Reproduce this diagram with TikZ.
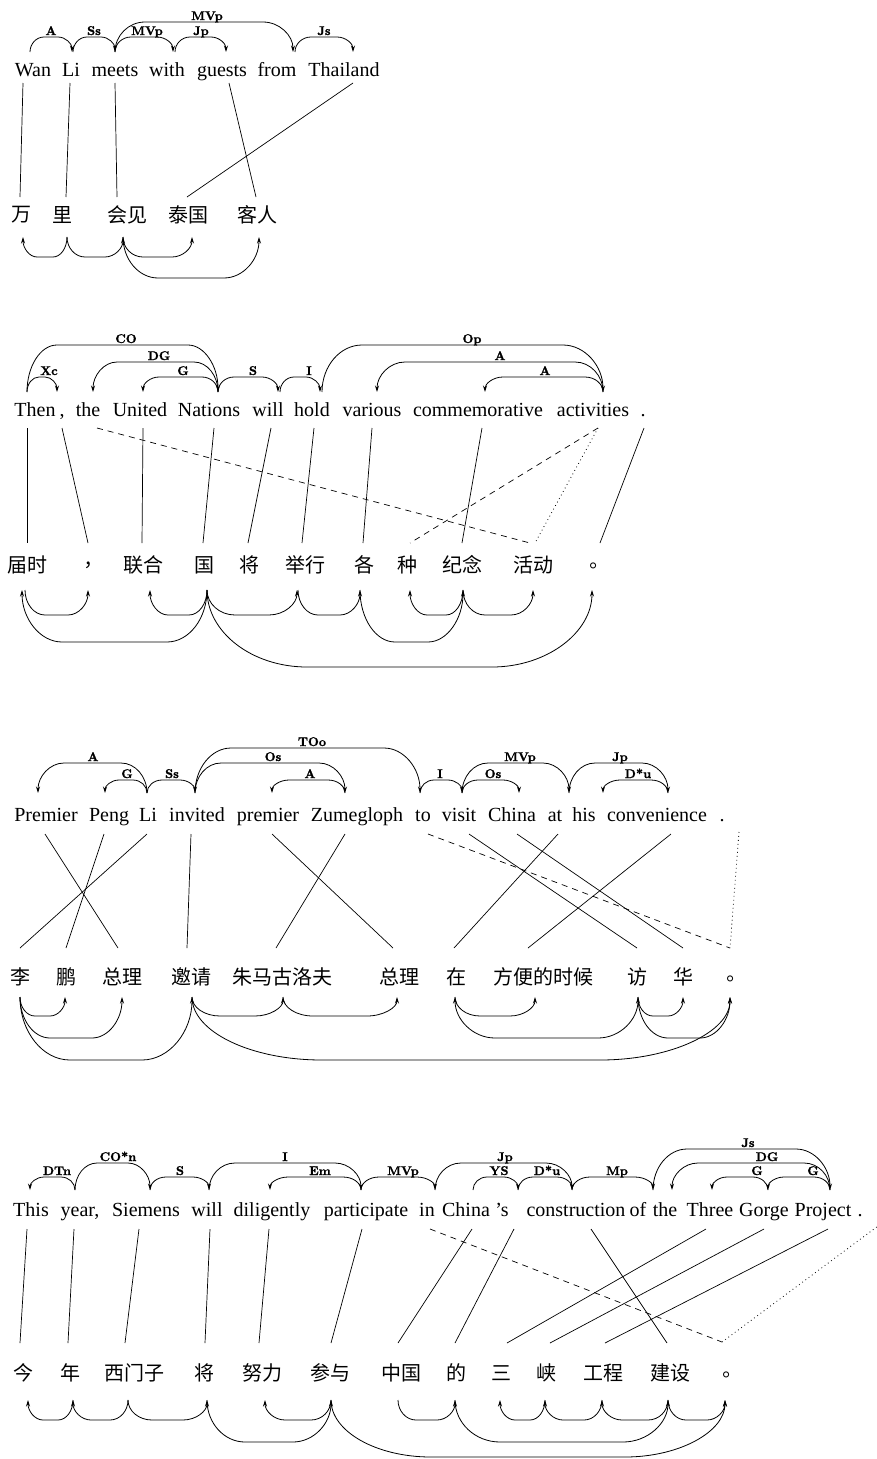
\documentclass[tikz,border=0pt]{standalone}
\usepackage{fontspec}
\usetikzlibrary{arrows.meta}
\newfontfamily\enf{Liberation Serif}
\newfontfamily\zhf{Noto Sans CJK SC}
\newfontfamily\zhpf{Noto Sans CJK TC}
\newfontfamily\labf{lmroman10-bold.otf}[FakeBold=1.2]
\tikzset{
 en/.style={font=\enf\fontsize{20}{24}\selectfont,anchor=base,inner sep=0pt},
 zh/.style={font=\zhf\fontsize{20}{24}\selectfont,inner sep=0pt},
 zhp/.style={font=\zhpf\fontsize{20}{24}\selectfont,inner sep=0pt},
 lab/.style={font=\labf\fontsize{12.6}{12}\selectfont,anchor=base,inner sep=0pt},
 lnk/.style={line width=0.8pt},
 al/.style={line width=0.7pt},
 dsh/.style={line width=0.7pt,dash pattern=on 6pt off 5pt},
 dtt/.style={line width=0.8pt,dash pattern=on 0.8pt off 3.2pt},
 R/.style={-{Stealth[length=6.5pt,width=4pt]}},
 L/.style={{Stealth[length=6.5pt,width=4pt]}-},
 B/.style={{Stealth[length=6.5pt,width=4pt]}-{Stealth[length=6.5pt,width=4pt]}},
}
\newcount\labn
\newcommand\lnkarc[6][]{\draw[lnk,#1] (#2,#4) .. controls (#2,{#4+0.55*(#5-#4)}) and ({#2+0.45*#6},#5) .. ({#2+#6},#5) -- ({#3-#6},#5) .. controls ({#3-0.45*#6},#5) and (#3,{#4+0.55*(#5-#4)}) .. (#3,#4);}
\newcommand\lbl[3]{\global\advance\labn by 1 \node[lab] (lab\the\labn) at (#1,{#2-2}) {#3};}
\begin{document}
\begin{tikzpicture}[x=1pt,y=-1pt]
\useasboundingbox (0,0) rectangle (876,1459);
% ================= Section 1
\node[en] (s1e1) at (33,76) {Wan};
\node[en] (s1e2) at (71,76) {Li};
\node[en] (s1e3) at (115,76) {meets};
\node[en] (s1e4) at (167,76) {with};
\node[en] (s1e5) at (222,76) {guests};
\node[en] (s1e6) at (277,76) {from};
\node[en] (s1e7) at (344,76) {Thailand};
\lnkarc[R]{30}{72}{52}{37}{14} \lbl{51}{37}{A}
\lnkarc[R]{73}{115}{52}{37}{14} \lbl{94}{37}{Ss}
\lnkarc[R]{115}{173}{52}{37}{16} \lbl{147}{37}{MVp}
\lnkarc[R]{175}{226}{52}{37}{15} \lbl{201}{37}{Jp}
\lnkarc[R]{115}{293}{52}{22}{30} \lbl{207}{22}{MVp}
\lnkarc[R]{295}{353}{52}{37}{16} \lbl{324}{37}{Js}
\node[zh] (s1z1) at (21,215) {万};
\node[zh] (s1z2) at (62,215) {里};
\node[zh] (s1z3) at (127,215) {会见};
\node[zh] (s1z4) at (188,215) {泰国};
\node[zh] (s1z5) at (257,215) {客人};
\draw[al] (23,83) -- (20,197);
\draw[al] (70,83) -- (66,197);
\draw[al] (115,83) -- (117,197);
\draw[al] (229,83) -- (256,197);
\draw[al] (353,83) -- (187,197);
\lnkarc[L]{23}{67}{237}{257}{14}
\lnkarc[R]{67}{123}{237}{257}{18}
\lnkarc[R]{123}{192}{237}{257}{20}
\lnkarc[R]{123}{259}{237}{278}{35}
% ================= Section 2
\node[en] (s2e1) at (35,416) {Then};
\node[en] (s2e2) at (62,416) {,};
\node[en] (s2e3) at (88,416) {the};
\node[en] (s2e4) at (140,416) {United};
\node[en] (s2e5) at (209,416) {Nations};
\node[en] (s2e6) at (268,416) {will};
\node[en] (s2e7) at (312,416) {hold};
\node[en] (s2e8) at (372,416) {various};
\node[en] (s2e9) at (478,416) {commemorative};
\node[en] (s2e10) at (593,416) {activities};
\node[en] (s2e11) at (643,416) {.};
\lnkarc[R]{27}{57}{392}{377}{12} \lbl{49}{377}{Xc}
\lnkarc[R]{27}{218}{392}{345}{30} \lbl{126}{345}{CO}
\lnkarc[L]{93}{218}{392}{362}{24} \lbl{159}{362}{DG}
\lnkarc[L]{143}{218}{392}{377}{16} \lbl{183}{377}{G}
\lnkarc[R]{218}{278}{392}{377}{16} \lbl{253}{377}{S}
\lnkarc[R]{280}{320}{392}{377}{14} \lbl{309}{377}{I}
\lnkarc[R]{322}{603}{392}{345}{40} \lbl{472}{345}{Op}
\lnkarc[L]{377}{603}{392}{362}{28} \lbl{500}{362}{A}
\lnkarc[L]{485}{603}{392}{377}{18} \lbl{545}{377}{A}
\node[zh] (s2z1) at (28,565) {届时};
\node[zhp] (s2z2) at (88,567) {，};
\node[zh] (s2z3) at (143,565) {联合};
\node[zh] (s2z4) at (204,565) {国};
\node[zh] (s2z5) at (249,565) {将};
\node[zh] (s2z6) at (305,565) {举行};
\node[zh] (s2z7) at (364,565) {各};
\node[zh] (s2z8) at (407,565) {种};
\node[zh] (s2z9) at (462,565) {纪念};
\node[zh] (s2z10) at (533,565) {活动};
\node[zhp] (s2z11) at (593,568) {。};
\draw[al] (27,428) -- (27,543);
\draw[al] (62,428) -- (88,543);
\draw[al] (143,428) -- (142,543);
\draw[al] (214,428) -- (203,543);
\draw[al] (271,428) -- (248,543);
\draw[al] (314,428) -- (302,543);
\draw[al] (372,428) -- (363,543);
\draw[al] (482,428) -- (462,543);
\draw[al] (644,428) -- (600,543);
\draw[dsh] (97,428) -- (530,543);
\draw[dsh] (598,428) -- (410,543);
\draw[dtt] (598,428) -- (535,543);
\lnkarc[R]{25}{88}{590}{615}{20}
\lnkarc[L]{22}{207}{590}{642}{40}
\lnkarc[L]{150}{207}{590}{615}{18}
\lnkarc[R]{207}{297}{590}{615}{28}
\lnkarc[R]{298}{360}{590}{615}{20}
\lnkarc[R]{360}{463}{590}{642}{35}
\lnkarc[L]{410}{463}{590}{615}{17}
\lnkarc[R]{463}{533}{590}{615}{22}
\lnkarc[R]{207}{592}{590}{667}{100}
% ================= Section 3
\node[en] (s3e1) at (46,821) {Premier};
\node[en] (s3e2) at (109,821) {Peng};
\node[en] (s3e3) at (148,821) {Li};
\node[en] (s3e4) at (197,821) {invited};
\node[en] (s3e5) at (268,821) {premier};
\node[en] (s3e6) at (357,821) {Zumegloph};
\node[en] (s3e7) at (423,821) {to};
\node[en] (s3e8) at (459,821) {visit};
\node[en] (s3e9) at (512,821) {China};
\node[en] (s3e10) at (555,821) {at};
\node[en] (s3e11) at (584,821) {his};
\node[en] (s3e12) at (657,821) {convenience};
\node[en] (s3e13) at (722,821) {.};
\lnkarc[L]{38}{147}{793}{763}{26} \lbl{93}{763}{A}
\lnkarc[L]{105}{147}{793}{780}{14} \lbl{127}{780}{G}
\lnkarc[R]{147}{195}{793}{780}{15} \lbl{172}{780}{Ss}
\lnkarc[R]{195}{420}{793}{748}{36} \lbl{312}{748}{TOo}
\lnkarc[R]{195}{345}{793}{763}{26} \lbl{273}{763}{Os}
\lnkarc[L]{272}{345}{793}{780}{17} \lbl{310}{780}{A}
\lnkarc[R]{420}{462}{793}{780}{14} \lbl{440}{780}{I}
\lnkarc[R]{462}{519}{793}{780}{16} \lbl{493}{780}{Os}
\lnkarc[R]{462}{569}{793}{763}{26} \lbl{520}{763}{MVp}
\lnkarc[R]{569}{668}{793}{763}{26} \lbl{620}{763}{Jp}
\lnkarc[L]{603}{668}{793}{780}{17} \lbl{638}{780}{D*u}
\node[zh] (s3z1) at (20,977) {李};
\node[zh] (s3z2) at (66,977) {鹏};
\node[zh] (s3z3) at (122,977) {总理};
\node[zh] (s3z4) at (191,977) {邀请};
\node[zh] (s3z5) at (282,977) {朱马古洛夫};
\node[zh] (s3z6) at (399,977) {总理};
\node[zh] (s3z7) at (456,977) {在};
\node[zh] (s3z8) at (543,977) {方便的时候};
\node[zh] (s3z9) at (637,977) {访};
\node[zh] (s3z10) at (683,977) {华};
\node[zhp] (s3z11) at (730,981) {。};
\draw[al] (45,834) -- (118,948);
\draw[al] (104,834) -- (66,948);
\draw[al] (147,834) -- (20,948);
\draw[al] (191,834) -- (187,948);
\draw[al] (272,834) -- (393,948);
\draw[al] (345,834) -- (276,948);
\draw[dsh] (428,834) -- (730,948);
\draw[al] (469,834) -- (637,948);
\draw[al] (517,834) -- (683,948);
\draw[al] (558,834) -- (454,948);
\draw[al] (671,834) -- (528,948);
\draw[dtt] (739,832) -- (730,948);
\lnkarc[R]{20}{65}{997}{1016}{15}
\lnkarc[R]{20}{122}{997}{1038}{30}
\lnkarc[R]{20}{192}{997}{1060}{50}
\lnkarc[R]{192}{283}{997}{1016}{28}
\lnkarc[R]{283}{397}{997}{1016}{30}
\lnkarc[R]{192}{730}{997}{1060}{130}
\lnkarc[R]{455}{535}{997}{1016}{25}
\lnkarc[B]{455}{638}{997}{1038}{40}
\lnkarc[R]{638}{683}{997}{1016}{15}
\lnkarc[R]{638}{730}{997}{1038}{30}
% ================= Section 4
\node[en] (s4e1) at (31,1216) {This};
\node[en] (s4e2) at (80,1216) {year,};
\node[en] (s4e3) at (146,1216) {Siemens};
\node[en] (s4e4) at (207,1216) {will};
\node[en] (s4e5) at (272,1216) {diligently};
\node[en] (s4e6) at (366,1216) {participate};
\node[en] (s4e7) at (427,1216) {in};
\node[en] (s4e8) at (466,1216) {China};
\node[en] (s4e9) at (502,1216) {’s};
\node[en] (s4e10) at (576,1216) {construction};
\node[en] (s4e11) at (638,1216) {of};
\node[en] (s4e12) at (665,1216) {the};
\node[en] (s4e13) at (710,1216) {Three};
\node[en] (s4e14) at (764,1216) {Gorge};
\node[en] (s4e15) at (823,1216) {Project};
\node[en] (s4e16) at (860,1216) {.};
\lnkarc[L]{30}{75}{1190}{1177}{14} \lbl{57}{1177}{DTn}
\lnkarc[R]{75}{150}{1190}{1163}{22} \lbl{118}{1163}{CO*n}
\lnkarc[R]{150}{209}{1190}{1177}{16} \lbl{180}{1177}{S}
\lnkarc[R]{209}{361}{1190}{1163}{26} \lbl{285}{1163}{I}
\lnkarc[L]{270}{361}{1190}{1177}{18} \lbl{320}{1177}{Em}
\lnkarc[R]{361}{435}{1190}{1177}{18} \lbl{403}{1177}{MVp}
\lnkarc[R]{435}{572}{1190}{1163}{26} \lbl{505}{1163}{Jp}
\lnkarc[R]{473}{518}{1190}{1177}{14} \lbl{499}{1177}{YS}
\lnkarc[R]{518}{572}{1190}{1177}{15} \lbl{547}{1177}{D*u}
\lnkarc[R]{572}{653}{1190}{1177}{18} \lbl{617}{1177}{Mp}
\lnkarc[R]{653}{830}{1190}{1149}{34} \lbl{748}{1149}{Js}
\lnkarc[L]{672}{830}{1190}{1163}{26} \lbl{767}{1163}{DG}
\lnkarc[L]{712}{768}{1190}{1177}{15} \lbl{757}{1177}{G}
\lnkarc[L]{768}{830}{1190}{1177}{16} \lbl{813}{1177}{G}
\node[zh] (s4z1) at (23,1373) {今};
\node[zh] (s4z2) at (70,1373) {年};
\node[zh] (s4z3) at (134,1373) {西门子};
\node[zh] (s4z4) at (204,1373) {将};
\node[zh] (s4z5) at (262,1373) {努力};
\node[zh] (s4z6) at (330,1373) {参与};
\node[zh] (s4z7) at (401,1373) {中国};
\node[zh] (s4z8) at (456,1373) {的};
\node[zh] (s4z9) at (501,1373) {三};
\node[zh] (s4z10) at (546,1373) {峡};
\node[zh] (s4z11) at (603,1373) {工程};
\node[zh] (s4z12) at (670,1373) {建设};
\node[zhp] (s4z13) at (726,1377) {。};
\coordinate (s4free) at (878,1226);
\draw[al] (27,1229) -- (20,1343);
\draw[al] (74,1229) -- (68,1343);
\draw[al] (139,1229) -- (125,1343);
\draw[al] (210,1229) -- (205,1343);
\draw[al] (269,1229) -- (259,1343);
\draw[al] (362,1229) -- (331,1343);
\draw[dsh] (430,1229) -- (722,1342);
\draw[dtt] (722,1342) -- (s4free);
\draw[al] (472,1229) -- (398,1343);
\draw[al] (514,1229) -- (455,1343);
\draw[al] (591,1229) -- (667,1343);
\draw[al] (706,1229) -- (507,1343);
\draw[al] (764,1229) -- (550,1343);
\draw[al] (828,1229) -- (605,1343);
\lnkarc[L]{28}{73}{1400}{1420}{15}
\lnkarc[L]{73}{128}{1400}{1420}{18}
\lnkarc[R]{128}{207}{1400}{1420}{24}
\lnkarc[L]{265}{331}{1400}{1420}{20}
\lnkarc[R]{207}{331}{1400}{1442}{38}
\lnkarc[R]{331}{725}{1400}{1457}{100}
\lnkarc[R]{398}{455}{1400}{1420}{18}
\lnkarc[R]{455}{668}{1400}{1442}{45}
\lnkarc[L]{500}{545}{1400}{1420}{15}
\lnkarc[L]{545}{602}{1400}{1420}{18}
\lnkarc[L]{602}{668}{1400}{1420}{20}
\lnkarc[R]{668}{725}{1400}{1420}{18}
\end{tikzpicture}
\end{document}
